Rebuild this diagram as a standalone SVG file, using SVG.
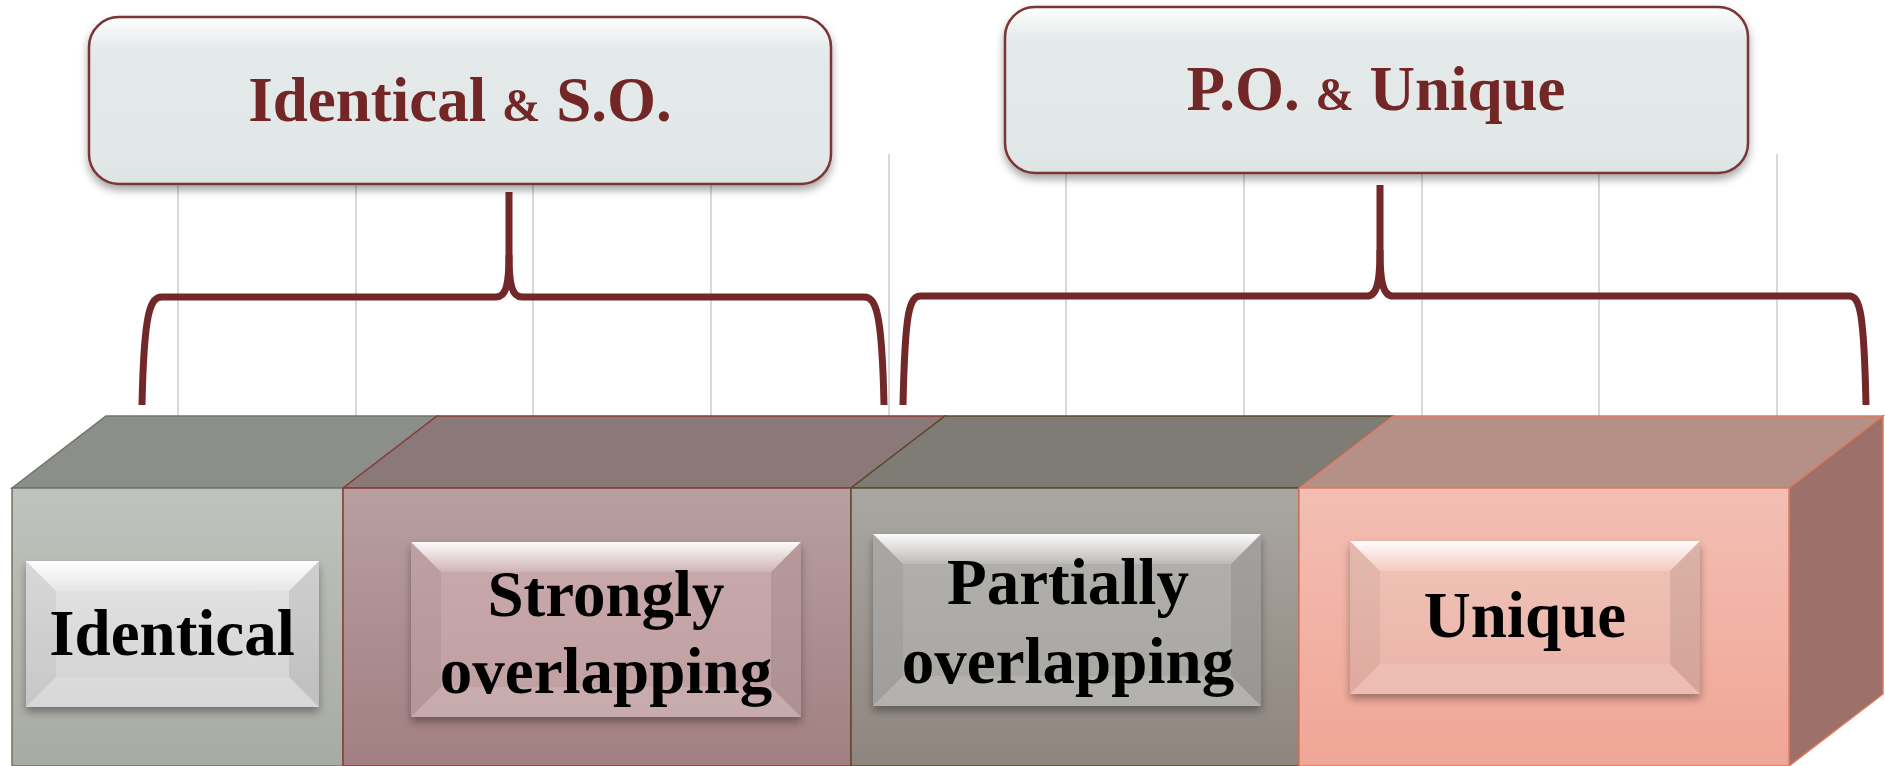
<svg xmlns="http://www.w3.org/2000/svg" width="1885" height="766" viewBox="0 0 1885 766">
<style>
.grid{stroke:#d9d9d9;stroke-width:2}
.brace{fill:none;stroke:#722828;stroke-width:7;stroke-linejoin:round}
.htxt{font-family:"Liberation Serif","Times New Roman",serif;font-weight:bold;font-size:63px;fill:#722828;text-anchor:middle}
.btxt{font-family:"Liberation Serif","Times New Roman",serif;font-weight:bold;font-size:65px;fill:#000;text-anchor:middle}
.amp{font-size:46px}
.hbox{fill:url(#gHead);stroke:#7a3434;stroke-width:2.5}
.bevT{fill:url(#gBevT)}
.bevL{fill:#000;fill-opacity:0.05}
.bevR{fill:#000;fill-opacity:0.09}
.bevB{fill:#fff;fill-opacity:0.12}
</style>
<defs>
<filter id="sh" x="-10%" y="-10%" width="120%" height="130%">
<feDropShadow dx="0" dy="5" stdDeviation="4" flood-color="#000" flood-opacity="0.35"/>
</filter>
<linearGradient id="gHead" x1="0" y1="0" x2="0" y2="1">
<stop offset="0" stop-color="#ffffff"/>
<stop offset="0.2" stop-color="#e4e9e9"/>
<stop offset="0.85" stop-color="#e2e7e7"/>
<stop offset="1" stop-color="#dde3e3"/>
</linearGradient>
<linearGradient id="gBevT" x1="0" y1="0" x2="0" y2="1">
<stop offset="0" stop-color="#fff" stop-opacity="0.95"/>
<stop offset="1" stop-color="#fff" stop-opacity="0.15"/>
</linearGradient>
<linearGradient id="f1" x1="0" y1="0" x2="0" y2="1">
<stop offset="0" stop-color="#c0c2bd"/><stop offset="1" stop-color="#a8aba3"/>
</linearGradient>
<linearGradient id="f2" x1="0" y1="0" x2="0" y2="1">
<stop offset="0" stop-color="#b89fa0"/><stop offset="1" stop-color="#a27f82"/>
</linearGradient>
<linearGradient id="f3" x1="0" y1="0" x2="0" y2="1">
<stop offset="0" stop-color="#aaa7a1"/><stop offset="1" stop-color="#8e857e"/>
</linearGradient>
<linearGradient id="f4" x1="0" y1="0" x2="0" y2="1">
<stop offset="0" stop-color="#f3beb4"/><stop offset="1" stop-color="#f0a695"/>
</linearGradient>
<linearGradient id="b1" x1="0" y1="0" x2="0" y2="1">
<stop offset="0" stop-color="#e4e4e4"/><stop offset="1" stop-color="#d2d2d2"/>
</linearGradient>
<linearGradient id="b2" x1="0" y1="0" x2="0" y2="1">
<stop offset="0" stop-color="#c9a9ab"/><stop offset="1" stop-color="#bf9fa1"/>
</linearGradient>
<linearGradient id="b3" x1="0" y1="0" x2="0" y2="1">
<stop offset="0" stop-color="#b2b0ad"/><stop offset="1" stop-color="#a9a7a3"/>
</linearGradient>
<linearGradient id="b4" x1="0" y1="0" x2="0" y2="1">
<stop offset="0" stop-color="#f0c4b8"/><stop offset="1" stop-color="#ebb3a8"/>
</linearGradient>
</defs>

<g id="grid">
<line class="grid" x1="178" y1="154" x2="178" y2="420"/>
<line class="grid" x1="356" y1="154" x2="356" y2="420"/>
<line class="grid" x1="533" y1="154" x2="533" y2="420"/>
<line class="grid" x1="711" y1="154" x2="711" y2="420"/>
<line class="grid" x1="889" y1="154" x2="889" y2="420"/>
<line class="grid" x1="1066" y1="154" x2="1066" y2="420"/>
<line class="grid" x1="1244" y1="154" x2="1244" y2="420"/>
<line class="grid" x1="1422" y1="154" x2="1422" y2="420"/>
<line class="grid" x1="1599" y1="154" x2="1599" y2="420"/>
<line class="grid" x1="1777" y1="154" x2="1777" y2="420"/>
</g>

<g id="connectors">
<path class="brace" d="M509 192 L509 255 C509 285 506 297 496 297 L162 297 C150 297 144 312 142 405"/>
<path class="brace" d="M509 255 C509 285 512 297 522 297 L864 297 C876 297 882 312 884 405"/>
<path class="brace" d="M1380 185 L1380 250 C1380 282 1377 296 1367 296 L921 296 C909 296 905 312 903 405"/>
<path class="brace" d="M1380 250 C1380 282 1383 296 1393 296 L1849 296 C1860 296 1864 312 1866 405"/>
</g>

<g id="head-identical-so" filter="url(#sh)">
<rect class="hbox" x="89" y="17" width="742" height="167" rx="30"/>
<text class="htxt" x="460" y="121">Identical <tspan class="amp">&amp;</tspan> S.O.</text>
</g>
<g id="head-po-unique" filter="url(#sh)">
<rect class="hbox" x="1005" y="7" width="743" height="166" rx="30"/>
<text class="htxt" x="1376" y="110">P.O. <tspan class="amp">&amp;</tspan> Unique</text>
</g>

<g id="cube">
<polygon points="12,488 106,416 437,416 343,488" fill="#8c8e8a" stroke="#6f7468" stroke-width="1.5"/>
<polygon points="343,488 437,416 945,416 851,488" fill="#8b7878" stroke="#8a3a3a" stroke-width="1.5"/>
<polygon points="851,488 945,416 1393,416 1299,488" fill="#7f7c76" stroke="#5a4a30" stroke-width="1.5"/>
<polygon points="1299,488 1393,416 1883,416 1789,488" fill="#b59087" stroke="#e07860" stroke-width="1.5"/>
<polygon points="1789,488 1883,416 1883,694 1789,766" fill="#9d7169" stroke="#e07860" stroke-width="1.5"/>
<rect x="12" y="488" width="331" height="278" fill="url(#f1)" stroke="#6f7468" stroke-width="1.5"/>
<rect x="343" y="488" width="508" height="278" fill="url(#f2)" stroke="#8a3a3a" stroke-width="1.5"/>
<rect x="851" y="488" width="448" height="278" fill="url(#f3)" stroke="#5a4a30" stroke-width="1.5"/>
<rect x="1299" y="488" width="490" height="278" fill="url(#f4)" stroke="#e07860" stroke-width="1.5"/>
</g>

<g id="node-identical">
<g filter="url(#sh)"><rect x="26" y="561" width="293" height="146" fill="url(#b1)"/></g>
<polygon class="bevT" points="26,561 319,561 289,591 56,591"/>
<polygon class="bevL" points="26,561 56,591 56,677 26,707"/>
<polygon class="bevR" points="319,561 289,591 289,677 319,707"/>
<polygon class="bevB" points="26,707 56,677 289,677 319,707"/>
<text class="btxt" x="172" y="655">Identical</text>
</g>

<g id="node-strongly">
<g filter="url(#sh)"><rect x="411" y="542" width="390" height="175" fill="url(#b2)"/></g>
<polygon class="bevT" points="411,542 801,542 771,572 441,572"/>
<polygon class="bevL" points="411,542 441,572 441,687 411,717"/>
<polygon class="bevR" points="801,542 771,572 771,687 801,717"/>
<polygon class="bevB" points="411,717 441,687 771,687 801,717"/>
<text class="btxt" x="606" y="616">Strongly</text>
<text class="btxt" x="606" y="693">overlapping</text>
</g>

<g id="node-partially">
<g filter="url(#sh)"><rect x="873" y="534" width="388" height="172" fill="url(#b3)"/></g>
<polygon class="bevT" points="873,534 1261,534 1231,564 903,564"/>
<polygon class="bevL" points="873,534 903,564 903,676 873,706"/>
<polygon class="bevR" points="1261,534 1231,564 1231,676 1261,706"/>
<polygon class="bevB" points="873,706 903,676 1231,676 1261,706"/>
<text class="btxt" x="1068" y="604">Partially</text>
<text class="btxt" x="1068" y="683">overlapping</text>
</g>

<g id="node-unique">
<g filter="url(#sh)"><rect x="1350" y="541" width="350" height="153" fill="url(#b4)"/></g>
<polygon class="bevT" points="1350,541 1700,541 1670,571 1380,571"/>
<polygon class="bevL" points="1350,541 1380,571 1380,664 1350,694"/>
<polygon class="bevR" points="1700,541 1670,571 1670,664 1700,694"/>
<polygon class="bevB" points="1350,694 1380,664 1670,664 1700,694"/>
<text class="btxt" x="1525" y="637">Unique</text>
</g>
</svg>
